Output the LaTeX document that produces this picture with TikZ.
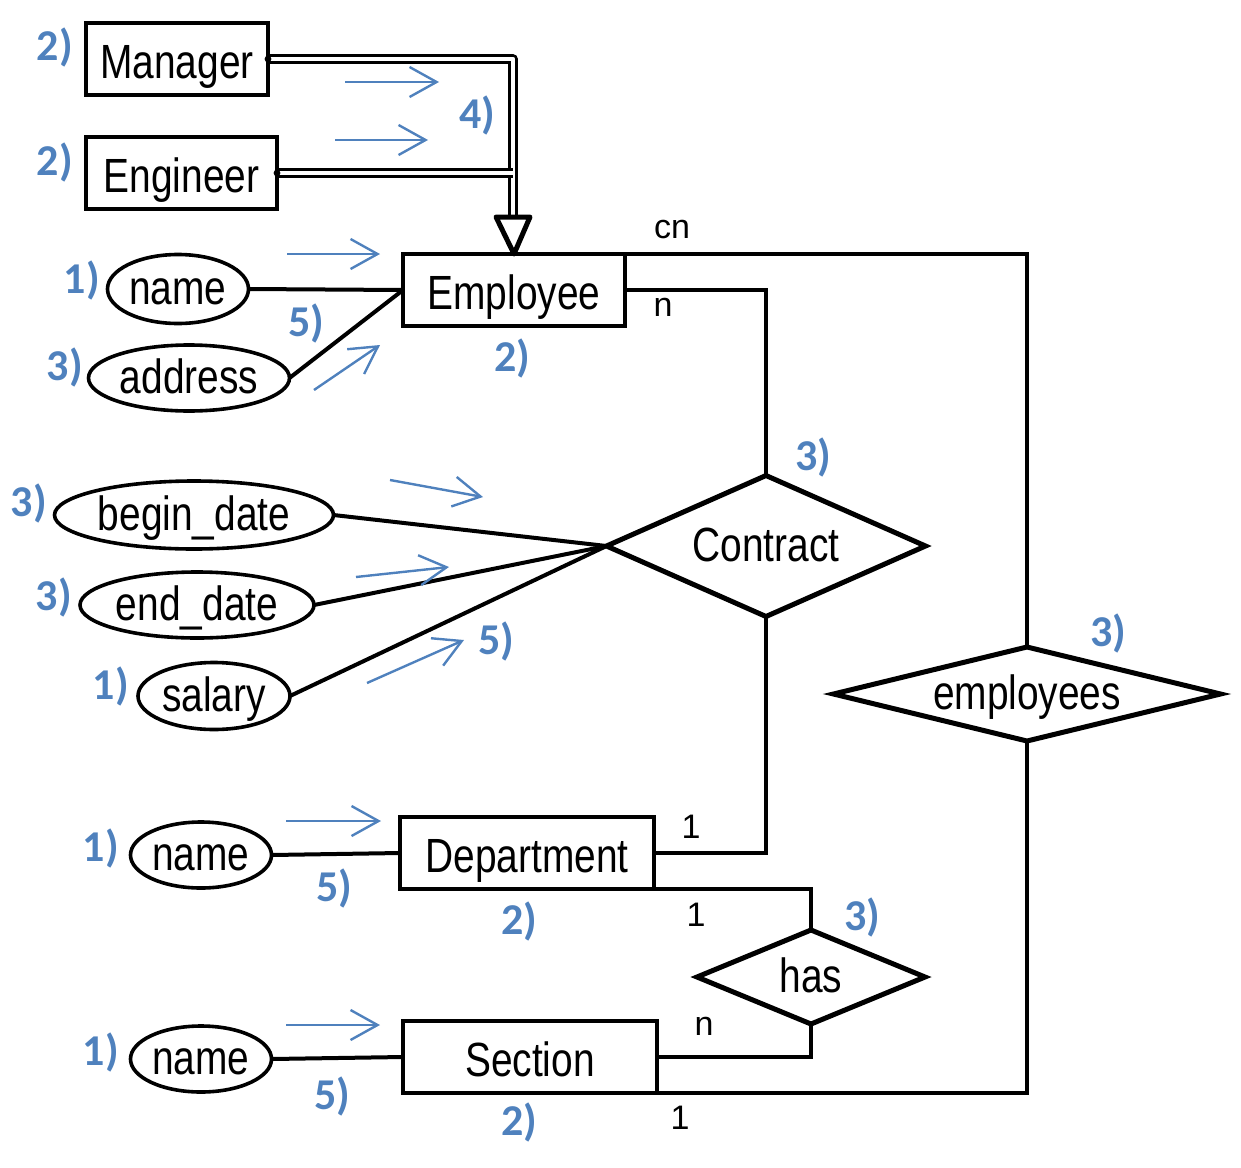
\documentclass[tikz,border=0pt]{standalone}
\usepackage{fontspec}
\setmainfont{Liberation Sans}
\newfontfamily\ERbig[FakeStretch=0.81]{Liberation Sans}
\newfontfamily\ERnum{Carlito}
\usetikzlibrary{shapes.geometric,arrows.meta}
\definecolor{ERblue}{HTML}{4F81BD}

\tikzset{ERent/.style={rectangle,draw,line width=2.2pt,inner sep=0pt,outer sep=0pt,minimum height=36pt,
           text height=19pt,text depth=0pt,font=\ERbig\fontsize{24}{28}\selectfont},
         ERatt/.style={ellipse,draw,line width=1.8pt,inner sep=0pt,outer sep=0pt,
           text height=15pt,text depth=0pt,font=\ERbig\fontsize{24}{28}\selectfont},
         ERrel/.style={diamond,draw,line width=2.5pt,inner sep=0pt,outer sep=0pt,
           text height=15pt,text depth=0pt,font=\ERbig\fontsize{24}{28}\selectfont},
         ERlink/.style={line width=2pt},
         ERcard/.style={inner sep=0pt,font=\fontsize{17}{20}\selectfont},
         ERstep/.style={inner sep=0pt,text=ERblue,font=\ERnum\bfseries\fontsize{22}{26}\selectfont},
         ERhint/.style={draw=ERblue,line width=1.2pt,-{Straight Barb[length=13.5pt,width=15pt]}},
         ERisa/.style={double,double distance=2.2pt,line width=1.2pt,line join=round}}

\begin{document}
\begin{tikzpicture}[x=0.5pt,y=-0.5pt]
  \useasboundingbox (0,0) rectangle (1241,1167);
  % entities
  \node[ERent,minimum width=91pt] (man) at (177,59) {Manager};
  \node[ERent,minimum width=95.5pt] (eng) at (181.5,173) {Engineer};
  \node[ERent,minimum width=111pt] (emp) at (514,290) {Employee};
  \node[ERent,minimum width=127pt] (dep) at (527,853) {Department};
  \node[ERent,minimum width=127pt] (sec) at (530,1057) {Section};
  % relationships
  \node[ERrel,minimum width=159.5pt,minimum height=70.5pt,shape aspect=2.26] (con) at (766,546) {Contract};
  \node[ERrel,minimum width=193.5pt,minimum height=47pt,shape aspect=4.1] (emps) at (1027,694) {employees};
  \node[ERrel,minimum width=114pt,minimum height=47pt,shape aspect=2.43] (has) at (811,977) {has};
  % attributes
  \node[ERatt,minimum width=70.5pt,minimum height=34.5pt] (ename) at (178,289) {name};
  \node[ERatt,minimum width=100.5pt,minimum height=33pt] (addr) at (189,378) {address};
  \node[ERatt,minimum width=139.5pt,minimum height=34pt] (bdate) at (194,515) {begin\_date};
  \node[ERatt,minimum width=117pt,minimum height=33pt] (edate) at (197,605) {end\_date};
  \node[ERatt,minimum width=76pt,minimum height=33.5pt] (sal) at (214,696) {salary};
  \node[ERatt,minimum width=70.5pt,minimum height=33pt] (dname) at (201,855) {name};
  \node[ERatt,minimum width=70.5pt,minimum height=33pt] (sname) at (201,1059) {name};
  % attribute links
  \draw[ERlink] (ename.east) -- (emp.west); \draw[ERlink] (addr.east) -- (emp.west);
  \draw[ERlink] (bdate.east) -- (con.west); \draw[ERlink] (edate.east) -- (con.west);
  \draw[ERlink] (sal.east) -- (con.west);
  \draw[ERlink] (dname.east) -- (dep.west); \draw[ERlink] (sname.east) -- (sec.west);
  % relationship links
  \draw[ERlink] (emp.east) -| (con.north); \draw[ERlink] (con.south) |- (dep.east);
  \draw[ERlink] (emp.north east) -| (emps.north); \draw[ERlink] (sec.south east) -| (emps.south);
  \draw[ERlink] (dep.south east) -| (has.north); \draw[ERlink] (has.south) |- (sec.east);
  \node[ERcard] (k1) at (672,230) {cn}; \node[ERcard] (k2) at (663,307) {n};
  \node[ERcard] (k3) at (691,827) {1};  \node[ERcard] (k4) at (696,915) {1};
  \node[ERcard] (k5) at (704,1026) {n}; \node[ERcard] (k6) at (680,1118) {1};
  % isa
  \coordinate (isa) at (513,217);
  \draw[ERisa] (man.east) -| (isa);
  \draw[ERisa] (eng.east) -- (eng.east -| isa);
  \draw[line width=2.5pt,line join=round] (isa) ++(-17,0) -- ++(34,0) -- (emp.north) -- cycle;
  \fill (man.east) circle[radius=1.7pt]; \fill (eng.east) circle[radius=1.7pt];
  % hints
  \foreach \ax/\ay/\bx/\by [count=\k] in {345/82/439/82, 335/140/428/140, 287/254/380/254, 314/390/380/345,
      390/480/483/497, 356/577/449/567, 367/683/464/640, 286/821/381/821, 286/1025/380/1025}
    {\coordinate (ha\k) at (\ax,\ay); \coordinate (hb\k) at (\bx,\by); \draw[ERhint] (ha\k) -- (hb\k);}
  \foreach \x/\y/\t [count=\k] in {55/48/2), 55/162/2), 477/115/4), 82/280/1), 306/323/5), 65/367/3),
      512/358/2), 813/457/3), 29/503/3), 54/597/3), 496/641/5), 111/686/1), 1108/633/3), 101/848/1),
      334/888/5), 519/921/2), 862/917/3), 101/1052/1), 332/1096/5), 519/1122/2)}
    \node[ERstep] (s\k) at (\x,\y) {\t};
\end{tikzpicture}
\end{document}
